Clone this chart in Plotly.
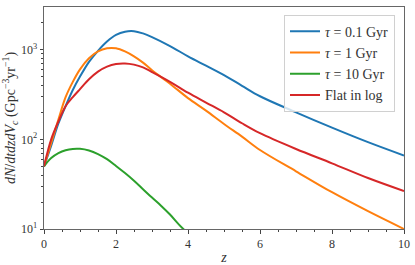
import plotly.graph_objects as go

# redshift grid
z = [0, 0.2, 0.4, 0.6, 0.8, 1.0, 1.25, 1.5, 1.75, 2.0, 2.25, 2.5, 2.75, 3.0,
     3.5, 4.0, 4.5, 5.0, 5.5, 6.0, 7.0, 8.0, 9.0, 10.0]

tau_01 = [50, 85, 150, 235, 355, 500, 730, 970, 1230, 1460, 1585, 1605, 1515, 1380,
          1096, 841, 661, 519, 395, 302, 200, 135, 93, 66]
tau_1 = [50, 91, 166, 295, 437, 603, 800, 955, 1035, 1035, 955, 841, 716, 589,
         417, 288, 209, 148, 107, 76, 44, 25.7, 15.8, 10.0]
flat_log = [50, 100, 158, 234, 295, 363, 468, 569, 646, 692, 701, 680, 633, 562,
            437, 331, 257, 200, 151, 117, 78, 54, 37, 26.5]

z_green = [0, 0.2, 0.4, 0.6, 0.8, 1.0, 1.25, 1.5, 1.75, 2.0, 2.25, 2.5, 2.75, 3.0,
           3.25, 3.5, 3.75, 4.0]
tau_10 = [50, 61.7, 70.0, 75.5, 78.2, 78.3, 75.0, 68.5, 60.0, 50.5, 42.0, 34.5, 27.8,
          22.4, 18.2, 14.5, 11.2, 8.9]

labels = ["<i>τ</i> = 0.1 Gyr", "<i>τ</i> = 1 Gyr", "<i>τ</i> = 10 Gyr", "Flat in log"]
colors = ["#1f77b4", "#ff7f0e", "#2ca02c", "#d62728"]

xticks = [0, 2, 4, 6, 8, 10]
yticks = [10, 100, 1000]
yticktext = ["10<sup>1</sup>", "10<sup>2</sup>", "10<sup>3</sup>"]

FONT = "Liberation Serif, DejaVu Serif, Times New Roman, serif"

fig = go.Figure()
series = [(z, tau_01), (z, tau_1), (z_green, tau_10), (z, flat_log)]
for (xs, ys), name, c in zip(series, labels, colors):
    fig.add_trace(go.Scatter(x=xs, y=ys, mode="lines", name=name,
                             line=dict(color=c, width=2, shape="spline", smoothing=1.0)))

minor_y = [v * m for m in (10, 100) for v in range(2, 10)] + [2000, 3000]

fig.update_layout(
    width=415, height=265,
    margin=dict(l=44, r=11, t=7, b=36, autoexpand=False),
    paper_bgcolor="white", plot_bgcolor="white",
    font=dict(family=FONT, size=12, color="#222"),
    showlegend=True,
    legend=dict(x=0.975, y=0.965, xanchor="right", yanchor="top",
                bgcolor="rgba(255,255,255,0.8)", bordercolor="#d0d0d0", borderwidth=1,
                font=dict(family=FONT, size=14, color="#333"),
                tracegroupgap=0, itemwidth=30),
    xaxis=dict(range=[0, 10], tickvals=xticks, ticktext=[str(t) for t in xticks],
               automargin=False,
               ticks="outside", ticklen=3.5, tickwidth=0.8, tickcolor="#444",
               minor=dict(tickvals=[v + 0.5 for v in range(0, 10)] + [1, 3, 5, 7, 9],
                          ticks="outside", ticklen=2, tickcolor="#444", tickwidth=0.6),
               showline=True, linecolor="#666", linewidth=1, mirror=True,
               showgrid=False, zeroline=False,
               tickfont=dict(family=FONT, size=12, color="#333"),
               title=dict(text="<i>z</i>", font=dict(family=FONT, size=14, color="#333"),
                          standoff=2)),
    yaxis=dict(type="log", range=[1, 3.475], tickvals=yticks, ticktext=yticktext,
               automargin=False,
               ticks="outside", ticklen=3.5, tickwidth=0.8, tickcolor="#444",
               minor=dict(tickvals=minor_y, ticks="outside", ticklen=2,
                          tickcolor="#444", tickwidth=0.6),
               showline=True, linecolor="#666", linewidth=1, mirror=True,
               showgrid=False, zeroline=False,
               tickfont=dict(family=FONT, size=12, color="#333"),
               title=dict(text="<i>dN</i>/<i>dtdzdV<sub>c</sub></i> (Gpc<sup>−3</sup>yr<sup>−1</sup>)",
                          font=dict(family=FONT, size=14, color="#333"), standoff=2)),
)

fig.write_html("out.html", config={"displayModeBar": False},
               post_script="document.body.style.margin='0';")
